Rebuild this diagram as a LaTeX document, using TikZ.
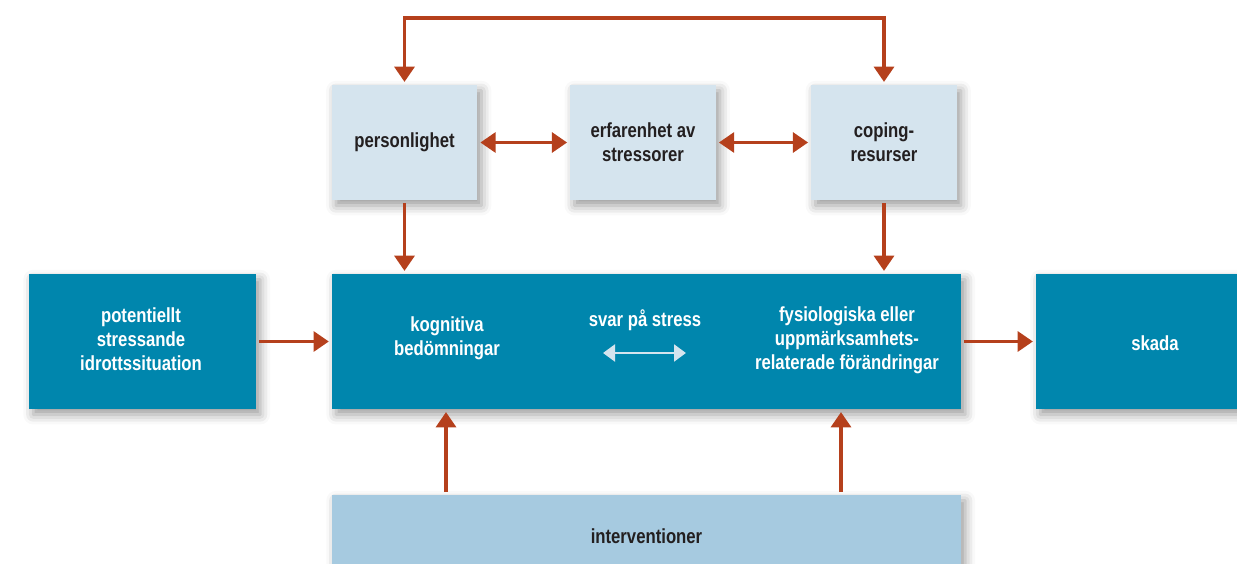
\documentclass[tikz,border=0pt]{standalone}
\usepackage{fontspec}
\setmainfont{Liberation Sans}[FakeStretch=0.82]
\usetikzlibrary{arrows.meta,shadows.blur}
\definecolor{boxteal}{HTML}{0086AD}
\definecolor{boxpale}{HTML}{D5E4EE}
\definecolor{boxsky}{HTML}{A6CAE0}
\definecolor{arrowred}{HTML}{B5401C}
\definecolor{boxtext}{HTML}{231F20}
\tikzset{
  box/.style={rectangle, inner sep=0pt, align=center,
    font=\fontsize{14.5}{17}\selectfont\bfseries,
    blur shadow={shadow xshift=3pt, shadow yshift=-4pt, shadow blur radius=7pt, shadow opacity=40}},
  palebox/.style={box, fill=boxpale, text=boxtext, minimum width=3.64cm, minimum height=2.875cm},
  tealbox/.style={box, fill=boxteal, text=white, minimum height=3.375cm},
  label/.style={align=center, inner sep=0pt, font=\fontsize{14.5}{17}\selectfont\bfseries},
  redtip/.tip={Triangle[length=0.38cm, width=0.5cm]},
  one/.style={draw=arrowred, line width=2.2pt, -redtip, shorten >=2pt, shorten <=2pt},
  both/.style={draw=arrowred, line width=2.2pt, redtip-redtip, shorten >=2pt, shorten <=2pt},
  pale/.style={draw=boxpale, line width=2pt, {Triangle[length=0.3cm, width=0.42cm]}-{Triangle[length=0.3cm, width=0.42cm]}}
}
\begin{document}
\begin{tikzpicture}[x=0.025cm, y=-0.025cm]
  \useasboundingbox (0,0) rectangle (1237,564);
  \clip (0,0) rectangle (1237,564);
  \node [palebox] (pers) at (404.5,142.5) {personlighet};
  \node [palebox] (erf) at (643,142.5) {erfarenhet av\\stressorer};
  \node [palebox] (cop) at (884,142.5) {coping-\\resurser};
  \node [tealbox, minimum width=5.675cm] (pot) at (142.5,341.5) {};
  \node [tealbox, minimum width=15.725cm] (mid) at (646.5,341.5) {};
  \node [tealbox, minimum width=5.85cm] (skada) at (1153,341.5) {};
  \node [box, fill=boxsky, text=boxtext, minimum width=15.725cm, minimum height=2.05cm] (interv) at (646.5,536) {interventioner};
  \node [label, text=white] (potl) at (141,339) {potentiellt\\stressande\\idrottssituation};
  \node [label, text=white] (kog) at (447,338) {kognitiva\\bedömningar};
  \node [label, text=white] (svar) at (645,320) {svar på stress};
  \node [label, text=white] (fys) at (847,340) {fysiologiska eller\\uppmärksamhets-\\relaterade förändringar};
  \node [label, text=white] (skadal) at (1155,343) {skada};
  \coordinate (top) at (643,18);
  \coordinate (sl) at (603,353);
  \coordinate (sr) at (686,353);
  \coordinate (iv1) at (446,495);
  \coordinate (iv2) at (841,495);
  \draw [both] (pers.north) |- (top) -| (cop.north);
  \draw [both] (pers) -- (erf);
  \draw [both] (erf) -- (cop);
  \draw [one] (pers.south) -- (pers.south |- mid.north);
  \draw [one] (cop.south) -- (cop.south |- mid.north);
  \draw [one] (iv1) -- (iv1 |- mid.south);
  \draw [one] (iv2) -- (iv2 |- mid.south);
  \draw [one] (pot) -- (mid);
  \draw [one] (mid) -- (skada);
  \draw [pale] (sl) -- (sr);
\end{tikzpicture}
\end{document}
